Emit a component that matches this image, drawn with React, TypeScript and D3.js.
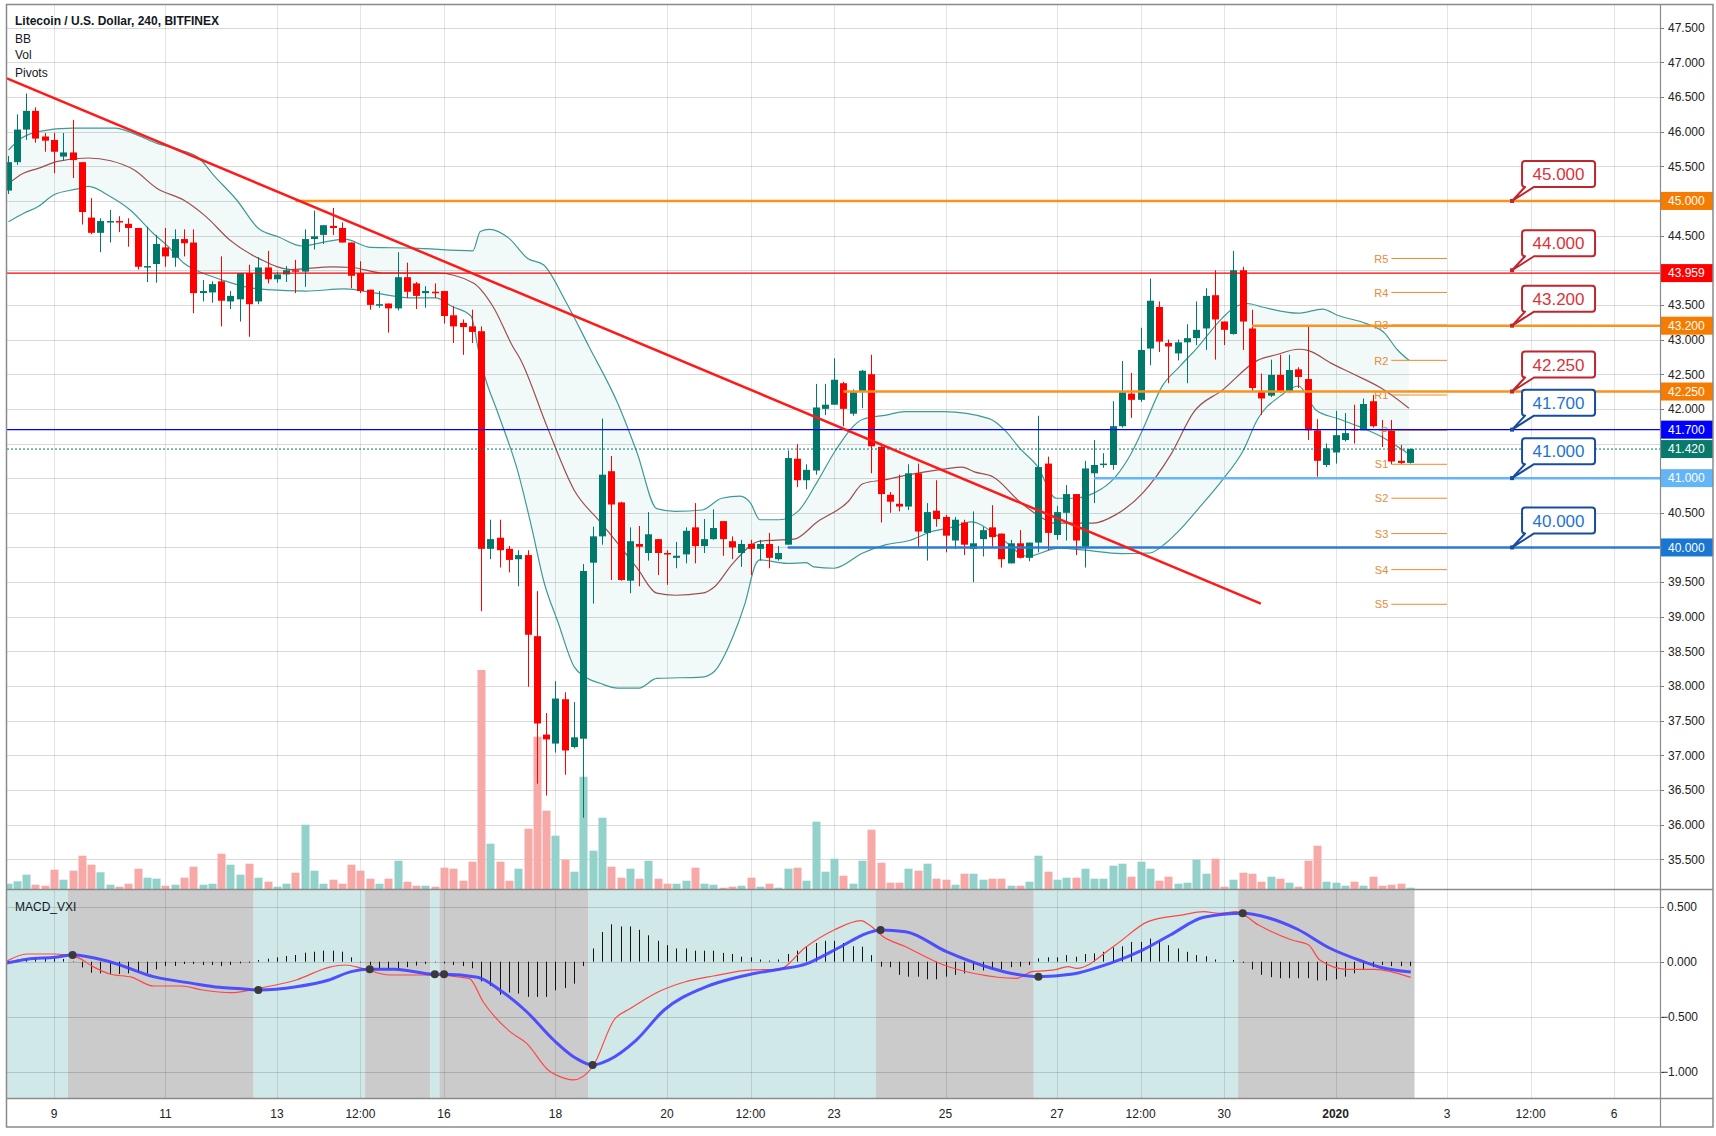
import React from 'react';
import * as d3 from 'd3';

const FONT = '"Liberation Sans", Arial, Helvetica, sans-serif';

// 4h bars, index counted from Dec 9 00:00 (6 bars a day)
const FIRST_BAR = -5;

// open, high, low, close
const ohlc: number[][] = [
  [45.15, 45.65, 45.10, 45.56], [45.56, 46.25, 45.52, 46.03], [46.03, 46.55, 45.88, 46.30], [46.30, 46.35, 45.84, 45.90],
  [45.93, 45.98, 45.71, 45.87], [45.88, 45.98, 45.40, 45.71], [45.64, 45.98, 45.58, 45.70], [45.70, 46.17, 45.33, 45.59],
  [45.56, 45.56, 44.66, 44.84], [44.76, 45.04, 44.52, 44.54], [44.54, 44.75, 44.26, 44.71], [44.70, 44.87, 44.40, 44.71],
  [44.71, 44.78, 44.55, 44.69], [44.67, 44.75, 44.34, 44.61], [44.61, 44.61, 44.01, 44.05], [44.04, 44.63, 43.83, 44.06],
  [44.09, 44.51, 43.82, 44.38], [44.33, 44.61, 44.05, 44.20], [44.18, 44.59, 44.05, 44.45], [44.45, 44.59, 44.20, 44.39],
  [44.40, 44.59, 43.38, 43.67], [43.67, 43.86, 43.55, 43.70], [43.68, 43.84, 43.53, 43.80], [43.84, 44.20, 43.19, 43.56],
  [43.55, 43.70, 43.44, 43.63], [43.58, 43.96, 43.26, 43.96], [43.96, 44.08, 43.04, 43.51], [43.55, 44.19, 43.51, 44.04],
  [44.04, 44.28, 43.81, 43.87], [43.87, 43.98, 43.82, 43.94], [43.94, 44.06, 43.83, 44.00], [44.00, 44.15, 43.67, 43.98],
  [43.98, 44.59, 43.76, 44.45], [44.45, 44.86, 44.30, 44.49], [44.51, 44.65, 44.38, 44.65], [44.64, 44.90, 44.51, 44.61],
  [44.61, 44.69, 44.40, 44.40], [44.40, 44.40, 43.74, 43.92], [43.96, 44.13, 43.67, 43.70], [43.72, 43.72, 43.43, 43.50],
  [43.50, 43.70, 43.46, 43.51], [43.52, 43.52, 43.10, 43.45], [43.45, 44.26, 43.42, 43.90], [43.90, 44.11, 43.60, 43.69],
  [43.81, 43.83, 43.44, 43.63], [43.67, 43.77, 43.46, 43.70], [43.69, 43.81, 43.60, 43.68], [43.70, 43.70, 43.23, 43.34],
  [43.35, 43.48, 42.95, 43.19], [43.24, 43.29, 42.78, 43.18], [43.19, 43.43, 42.95, 43.11], [43.12, 43.19, 39.08, 39.98],
  [39.98, 40.40, 39.83, 40.12], [40.14, 40.40, 39.71, 39.96], [39.98, 40.02, 39.64, 39.82], [39.83, 39.96, 39.44, 39.89],
  [39.89, 39.96, 37.99, 38.74], [38.72, 39.37, 36.59, 37.46], [37.30, 37.61, 36.42, 37.23], [37.17, 38.07, 37.04, 37.82],
  [37.81, 37.91, 36.72, 37.07], [37.12, 37.77, 37.10, 37.26], [37.24, 39.76, 36.10, 39.66], [39.78, 40.30, 39.19, 40.16],
  [40.16, 41.86, 40.04, 41.05], [41.10, 41.32, 39.53, 40.62], [40.65, 40.66, 39.52, 39.53], [39.52, 40.29, 39.34, 40.09],
  [40.05, 40.31, 39.44, 40.01], [39.92, 40.51, 39.81, 40.19], [40.12, 40.12, 39.60, 39.92], [39.92, 39.96, 39.46, 39.90],
  [39.85, 40.08, 39.70, 39.88], [39.90, 40.29, 39.77, 40.24], [40.29, 40.64, 39.77, 40.02], [40.02, 40.41, 39.92, 40.12],
  [40.12, 40.55, 40.11, 40.28], [40.38, 40.38, 39.88, 40.12], [40.09, 40.16, 39.83, 40.00], [39.92, 40.11, 39.72, 40.05],
  [40.05, 40.11, 39.60, 39.98], [39.98, 40.11, 39.81, 40.05], [40.05, 40.21, 39.70, 39.85], [39.83, 40.02, 39.81, 39.92],
  [40.04, 41.40, 40.04, 41.29], [41.28, 41.49, 40.87, 40.97], [40.97, 41.20, 40.84, 41.12], [41.11, 42.36, 41.05, 42.02],
  [42.00, 42.36, 41.91, 42.06], [42.06, 42.73, 42.06, 42.42], [42.37, 42.39, 41.75, 42.00], [41.93, 42.28, 41.90, 42.24],
  [42.25, 42.56, 42.01, 42.55], [42.50, 42.78, 41.07, 41.46], [41.45, 41.50, 40.36, 40.77], [40.76, 40.80, 40.50, 40.66],
  [40.63, 41.05, 40.52, 40.59], [40.59, 41.20, 40.54, 41.07], [41.07, 41.21, 40.01, 40.23], [40.21, 40.64, 39.81, 40.51],
  [40.53, 40.97, 40.30, 40.41], [40.44, 40.47, 39.93, 40.17], [40.10, 40.44, 39.98, 40.40], [40.36, 40.40, 39.89, 40.04],
  [39.98, 40.52, 39.50, 40.06], [40.12, 40.30, 39.87, 40.25], [40.29, 40.61, 40.01, 40.15], [40.20, 40.20, 39.71, 39.83],
  [39.77, 40.11, 39.77, 40.06], [40.06, 40.25, 39.84, 39.85], [39.85, 40.07, 39.80, 40.07], [40.07, 41.90, 39.93, 41.16],
  [41.21, 41.31, 39.96, 40.21], [40.18, 40.60, 40.11, 40.51], [40.50, 40.90, 40.10, 40.77], [40.77, 40.77, 39.89, 40.10],
  [40.01, 41.25, 39.71, 41.14], [41.07, 41.55, 40.64, 41.19], [41.19, 41.36, 41.15, 41.21], [41.19, 42.11, 41.12, 41.75],
  [41.75, 42.69, 41.73, 42.24], [42.22, 42.52, 41.87, 42.13], [42.13, 43.17, 42.10, 42.85], [42.87, 43.88, 42.63, 43.56],
  [43.47, 43.55, 42.82, 42.97], [42.95, 43.00, 42.37, 42.90], [42.80, 43.00, 42.70, 42.96], [42.96, 43.22, 42.37, 43.02],
  [43.02, 43.55, 42.92, 43.14], [43.16, 43.74, 42.85, 43.63], [43.64, 44.00, 42.71, 43.29], [43.26, 43.26, 42.92, 43.14],
  [43.08, 44.28, 43.07, 44.00], [44.00, 44.05, 42.85, 43.26], [43.16, 43.43, 42.26, 42.30], [42.26, 42.51, 41.91, 42.15],
  [42.19, 42.71, 42.17, 42.49], [42.49, 42.78, 42.23, 42.25], [42.25, 42.78, 42.23, 42.56], [42.57, 42.60, 42.30, 42.46],
  [42.43, 43.21, 41.55, 41.69], [41.69, 41.85, 41.02, 41.25], [41.19, 41.50, 41.16, 41.43], [41.37, 41.97, 41.21, 41.62],
  [41.55, 41.94, 41.53, 41.65], [41.71, 42.06, 41.50, 41.69], [41.69, 42.15, 41.69, 42.07], [42.11, 42.20, 41.73, 41.75],
  [41.71, 41.84, 41.45, 41.69], [41.69, 41.84, 41.20, 41.24], [41.25, 41.48, 41.20, 41.22], [41.22, 41.43, 41.21, 41.42],
];

const volume = [
  5.3, 7.7, 14.3, 4.3, 3.3, 19.3, 9.3, 18.3, 33.3, 24.3,
  16.7, 4.3, 2.3, 5.3, 20.3, 11.3, 10.3, 3.3, 4.3, 11.3,
  22.3, 4.3, 5.3, 35.3, 24.3, 14.3, 25.3, 11.3, 7.3, 2.3,
  5.3, 16.3, 64.3, 18.3, 5.3, 9.3, 5.3, 24.3, 18.3, 10.3,
  5.3, 10.3, 28.3, 7.3, 3.3, 3.3, 2.3, 21.3, 20.3, 8.3,
  27.3, 219, 45.3, 27.3, 8.3, 20.3, 60.3, 152.3, 78.3, 53.3,
  29.3, 17.3, 112.3, 38.3, 71.3,
  22.3, 11.3, 20.3, 10.3, 28.3, 10.3, 5.3, 5.3, 8.3, 21.3,
  5.3, 4.3, 1.3, 2.3, 3.3, 11.3, 2.3, 5.3, 1.3, 20.3,
  21.3, 8.3, 67.3, 17.3, 30.3, 13.3, 5.3, 28.3, 59.3, 26.3,
  6.3, 6.3, 20.3, 18.3, 25.3, 10.3, 9.3, 4.3, 15.3, 15.3,
  9.3, 10.3, 10.3, 3.3, 3.3, 7.3, 33.3, 17.3, 9.3, 11.3,
  11.3, 20.3, 10.3, 10.3, 23.3, 25.3, 12.3, 27.3, 20.3, 8.3,
  12.3, 5.3, 6.3, 29.3, 15.3, 30.3, 2.3, 9.3, 16.3, 15.3,
  7.3, 12.3, 10.3, 6.3, 2.3, 28.3, 43.3, 7.3, 6.3, 3.3,
  7.3, 3.3, 12.3, 3.3, 4.3, 5.3, 1.3,
];

// Bollinger bands, read at [bar, price]
const bbUpper = [
  [-4.9, 45.735], [-3.77, 45.88], [-1.72, 46.0], [2.0, 46.05], [6.55, 46.05], [9.0, 45.95], [11.1, 45.83], [13.6, 45.735],
  [15.6, 45.62], [17.2, 45.37], [19.7, 45.01], [21.96, 44.61], [24.2, 44.48], [26.7, 44.35], [29.2, 44.41], [31.3, 44.45],
  [34.1, 44.33], [38.7, 44.32], [45.1, 44.28], [45.9, 44.56], [46.9, 44.59], [49.0, 44.46], [51.0, 44.17], [52.7, 44.08],
  [55.1, 43.55], [57.6, 42.90], [60.7, 42.08], [62.8, 41.36], [64.9, 40.56], [66.9, 40.52], [69.8, 40.54], [71.9, 40.71],
  [73.9, 40.74], [75.0, 40.64], [76.0, 40.40], [78.1, 40.40], [80.1, 40.52], [82.2, 40.95], [84.2, 41.41], [87.1, 41.85],
  [89.6, 41.91], [91.6, 41.96], [95.8, 41.96], [100.7, 41.86], [102.4, 41.69], [104.0, 41.43], [105.9, 41.17], [107.9, 40.71],
  [109.8, 40.71], [111.9, 40.78], [114.3, 41.02], [116.0, 41.36], [117.2, 41.69], [119.3, 42.32], [121.2, 42.61], [122.9, 42.85],
  [125.8, 43.31], [127.3, 43.48], [128.5, 43.52], [130.1, 43.47], [134.0, 43.38], [136.6, 43.44], [138.2, 43.35], [141.3, 43.23],
  [143.3, 43.09], [144.6, 42.86], [145.9, 42.70],
];
const bbMiddle = [
  [-4.9, 45.25], [-3.3, 45.40], [-1.7, 45.47], [0.4, 45.57], [3.7, 45.62], [6.1, 45.58], [8.6, 45.45], [11.1, 45.18],
  [14.0, 45.01], [16.4, 44.77], [18.9, 44.44], [22.2, 44.16], [25.5, 44.01], [30.0, 44.05], [32.1, 44.04], [35.4, 43.96],
  [41.2, 43.96], [45.1, 43.82], [47.3, 43.47], [49.4, 42.90], [50.2, 42.72], [53.1, 41.74], [56.0, 40.83], [58.8, 40.37],
  [60.7, 40.06], [62.8, 39.70], [64.9, 39.34], [66.9, 39.31], [69.8, 39.34], [71.1, 39.43], [73.1, 39.77], [76.0, 40.09],
  [79.7, 40.12], [82.2, 40.37], [85.5, 40.66], [87.1, 40.92], [89.6, 40.98], [92.1, 41.05], [95.8, 41.13], [97.8, 41.16],
  [99.1, 41.09], [101.1, 41.02], [104.0, 40.66], [106.1, 40.45], [107.7, 40.35], [111.9, 40.35], [114.3, 40.47], [117.2, 40.78],
  [120.3, 41.35], [122.7, 41.95], [125.8, 42.27], [129.6, 42.70], [131.6, 42.78], [134.0, 42.86], [135.1, 42.84], [137.5, 42.66],
  [139.8, 42.51], [142.9, 42.30], [145.9, 42.01],
];
const bbLower = [
  [-4.9, 44.70], [-3.3, 44.82], [-1.7, 44.92], [0, 45.09], [2.4, 45.17], [3.7, 45.21], [6.1, 45.06], [8.2, 44.87],
  [10.7, 44.53], [12.3, 44.34], [14.0, 44.10], [16.0, 43.96], [18.1, 43.86], [20.6, 43.76], [23.0, 43.72], [27.1, 43.70],
  [31.3, 43.73], [34.6, 43.67], [38.7, 43.60], [41.1, 43.60], [42.8, 43.48], [44.9, 43.34], [45.7, 42.85], [46.3, 42.51],
  [47.8, 41.94], [50.0, 41.07], [51.5, 40.25], [52.7, 39.53], [54.3, 38.91], [56.0, 38.28], [57.2, 38.13], [58.8, 38.04],
  [60.7, 37.97], [63.0, 37.97], [64.9, 38.11], [69.8, 38.13], [71.1, 38.21], [73.1, 38.71], [74.4, 39.19], [75.6, 39.77],
  [76.0, 39.82], [78.9, 39.77], [81.0, 39.78], [81.8, 39.72], [84.0, 39.70], [87.1, 39.92], [89.6, 40.04], [92.1, 40.10],
  [94.5, 40.23], [97.0, 40.30], [98.7, 40.37], [102.0, 40.13], [104.8, 39.87], [108.2, 39.99], [111.0, 39.96], [114.9, 39.91],
  [118.0, 39.92], [119.7, 40.06], [121.2, 40.25], [123.1, 40.54], [125.8, 40.97], [128.1, 41.41], [129.6, 41.85], [132.0, 42.18],
  [134.0, 42.33], [135.9, 41.98], [138.2, 41.86], [140.6, 41.74], [142.9, 41.60], [145.2, 41.41], [145.9, 41.35],
];

// MACD_VXI pane
const macdLine = [
  [-5.2, -0.015], [-2.9, 0.022], [0.1, 0.04], [2, 0.061], [6, 0.0], [10.7, -0.136], [14.9, -0.197], [17.8, -0.233],
  [20.2, -0.245], [22, -0.257], [26.1, -0.227], [29.6, -0.166], [32, -0.09], [34, -0.069], [36.7, -0.069], [41, -0.115],
  [42, -0.115], [45.6, -0.142], [48, -0.257], [50.9, -0.455], [53.8, -0.712], [56.2, -0.878], [58, -0.939], [59.7, -0.894],
  [62.7, -0.712], [65.7, -0.439], [69.8, -0.242], [75.1, -0.112], [78, -0.07], [81, -0.02], [83, 0.06], [85, 0.15],
  [87, 0.24], [89, 0.288], [91.7, 0.273], [96.1, 0.091], [100.6, -0.051], [103.6, -0.115], [106, -0.136], [109.5, -0.115],
  [113.7, -0.015], [117.2, 0.106], [120.2, 0.243], [123.8, 0.404], [128, 0.44], [130.9, 0.395], [133.9, 0.295], [137.4, 0.122],
  [141, 0.0], [142.8, -0.051], [146.1, -0.094],
];
const signalLine = [
  [-5.2, 0.0], [-2.9, 0.07], [0.1, 0.07], [2.5, 0.04], [4.2, -0.045], [6, -0.112], [8.4, -0.142], [10.7, -0.221],
  [13.7, -0.221], [16, -0.257], [19, -0.282], [22, -0.242], [26.1, -0.166], [29.6, -0.051], [31.4, -0.03], [33.2, -0.06],
  [36.1, -0.121], [40.3, -0.121], [44.7, -0.151], [46.2, -0.364], [49.1, -0.636], [50.9, -0.742], [53.2, -0.985], [55, -1.06],
  [55.9, -1.075], [58, -0.955], [60.3, -0.53], [62.1, -0.424], [65.1, -0.273], [68, -0.182], [71, -0.13], [75.1, -0.075],
  [78, -0.069], [81, 0.136], [84, 0.288], [86.9, 0.373], [87.8, 0.334], [89.3, 0.227], [91.7, 0.136], [95.8, -0.03],
  [99.4, -0.112], [103.6, -0.151], [105.3, -0.091], [107.7, -0.075], [109.2, -0.045], [110.1, -0.06], [114.3, 0.152], [117.8, 0.364],
  [121.4, 0.424], [123.8, 0.455], [125.5, 0.44], [127.3, 0.455], [129.7, 0.334], [133.3, 0.197], [135.1, 0.152], [136.3, 0.015],
  [139.2, -0.069], [142.2, -0.069], [146.1, -0.142],
];
const histogram = [
  0.01, 0.02, 0.025, 0.03, 0.03, 0.03, 0.025, 0.005,
  -0.052, -0.10, -0.106, -0.112, -0.112, -0.106, -0.091, -0.106, -0.07, -0.039,
  -0.039, -0.021, -0.021, -0.03, -0.03, -0.039, -0.03, -0.015, -0.009, 0.015,
  0.027, 0.039, 0.052, 0.061, 0.082, 0.091, 0.1, 0.1, 0.091, 0.04,
  -0.005, -0.03, -0.06, -0.07, -0.07, -0.05, -0.035, -0.02, -0.005, -0.015,
  -0.03, -0.04, -0.06, -0.18, -0.22, -0.30, -0.28, -0.29, -0.32, -0.32,
  -0.32, -0.26, -0.24, -0.20, -0.04, 0.12, 0.27, 0.34, 0.32, 0.32,
  0.29, 0.24, 0.19, 0.15, 0.12, 0.12, 0.10, 0.10, 0.10, 0.08,
  0.07, 0.045, 0.04, 0.02, 0.01, 0.02, 0.07, 0.10, 0.14, 0.17,
  0.19, 0.19, 0.17, 0.14, 0.136, 0.06, -0.045, -0.05, -0.12, -0.136,
  -0.136, -0.16, -0.16, -0.136, -0.12, -0.106, -0.076, -0.08, -0.07, -0.07,
  -0.05, -0.045, -0.03, 0.03, 0.04, 0.04, 0.06, 0.045, 0.07, 0.076,
  0.09, 0.13, 0.14, 0.18, 0.18, 0.21, 0.19, 0.15, 0.12, 0.09,
  0.06, 0.05, 0.02, 0.0, 0.015, -0.01, -0.07, -0.12, -0.14, -0.15,
  -0.15, -0.15, -0.15, -0.17, -0.17, -0.16, -0.136, -0.106, -0.076, -0.05,
  -0.03, -0.04, -0.04, -0.04,
];
const crossBars = [2, 22, 34, 41, 42, 58, 89, 106, 128];
const crossValues = [0.061, -0.257, -0.069, -0.115, -0.115, -0.939, 0.288, -0.136, 0.44];

// drawings
const trendLine = [[-5.07, 46.77], [129.95, 39.19]];
const levelValues = [45.0, 43.959, 43.2, 42.25, 41.7, 41.42, 41.0, 40.0];
const levelStartBar = [26, -6, 129, 85, -6, -6, 112, 79];
const calloutValues = [45.0, 44.0, 43.2, 42.25, 41.7, 41.0, 40.0];
const calloutBar = 157;
const pivotNames = ['R5', 'R4', 'R3', 'R2', 'R1', 'P', 'S1', 'S2', 'S3', 'S4', 'S5'];
const pivotValues = [44.17, 43.68, 43.21, 42.70, 42.20, 41.69, 41.20, 40.71, 40.20, 39.68, 39.18];
const pivotFromBar = 144;
const pivotToBar = 150;

// axes
const priceTicks = [35.5, 36, 36.5, 37, 37.5, 38, 38.5, 39, 39.5, 40, 40.5, 41, 41.5, 42, 42.5, 43, 43.5, 44, 44.5, 45, 45.5, 46, 46.5, 47, 47.5];
const hiddenPriceLabels = [45, 44, 41.5, 41, 40];
const macdTicks = [0.5, 0, -0.5, -1];
const timeTickDays = [0, 2, 4, 5.5, 7, 9, 11, 12.5, 14, 16, 18, 19.5, 21, 23, 25, 26.5, 28];
const timeTickLabels = ['9', '11', '13', '12:00', '16', '18', '20', '12:00', '23', '25', '27', '12:00', '30', '2020', '3', '12:00', '6'];

const GREEN = '#00796b';
const RED = '#ff0000';
const ORANGE = '#f7931e';
const levelStyle = [
  { c: ORANGE, w: 2.5, dash: '' }, { c: '#ff0000', w: 1.2, dash: '' }, { c: ORANGE, w: 2.5, dash: '' },
  { c: ORANGE, w: 2.5, dash: '' }, { c: '#0000ff', w: 1.2, dash: '' }, { c: GREEN, w: 1, dash: '2 2' },
  { c: '#64b5f6', w: 2.5, dash: '' }, { c: '#2a7bd5', w: 2.5, dash: '' },
];
const labelBg = ['#f57c00', '#ff0000', '#f57c00', '#f57c00', '#0000ff', '#087a6c', '#64b5f6', '#1976d2'];

const L = 7, R = 1660, T = 5, MAIN_B = 889, MACD_B = 1098;

export default function App() {
  const xDay = d3.scaleLinear().domain([0, 28]).range([54, 1614.2]);
  const xBar = (k: number) => xDay(k / 6);
  const yP = d3.scaleLinear().domain([35.5, 47.5]).range([859.3, 27.7]);
  const yM = d3.scaleLinear().domain([-1, 0.5]).range([1071.7, 906.7]);
  const yV = d3.scaleLinear().domain([0, 220]).range([MAIN_B, MAIN_B - 220]);

  const priceLine = d3.line<number[]>().x(d => xBar(d[0])).y(d => yP(d[1])).curve(d3.curveMonotoneX);
  const macdPath = d3.line<number[]>().x(d => xBar(d[0])).y(d => yM(d[1])).curve(d3.curveMonotoneX);

  const upperD = priceLine(bbUpper) as string;
  const lowerD = priceLine(bbLower) as string;
  const ux0 = xBar(bbUpper[0][0]), ux1 = xBar(bbUpper[bbUpper.length - 1][0]);
  const lx0 = xBar(bbLower[0][0]), lx1 = xBar(bbLower[bbLower.length - 1][0]);
  const belowUpper = `${upperD}L${ux1},${MAIN_B}L${ux0},${MAIN_B}Z`;
  const aboveLower = `${lowerD}L${lx1},0L${lx0},0Z`;

  const bounds = [FIRST_BAR - 0.5, ...crossBars.map(b => b - 0.5), FIRST_BAR + ohlc.length - 0.5];

  const callout = (tipX: number, tipY: number) => {
    const x0 = tipX + 10, x1 = tipX + 83, y0 = tipY - 40, y1 = tipY - 14, r = 3;
    return `M${x0 + r},${y0}H${x1 - r}Q${x1},${y0} ${x1},${y0 + r}V${y1 - r}Q${x1},${y1} ${x1 - r},${y1}` +
      `H${x0 + 12}L${tipX},${tipY}L${x0 + 3},${y1}H${x0 + r}Q${x0},${y1} ${x0},${y1 - r}V${y0 + r}Q${x0},${y0} ${x0 + r},${y0}Z`;
  };

  const fmt = d3.format('.3f');
  const tipX = xBar(calloutBar);

  return (
    <svg width={1716} height={1136} style={{ position: 'absolute', left: 0, top: 0, background: '#fff' }} fontFamily={FONT}>
      <defs>
        <clipPath id="mainClip"><rect x={L} y={T} width={R - L} height={MAIN_B - T} /></clipPath>
        <clipPath id="macdClip"><rect x={L} y={MAIN_B} width={R - L} height={MACD_B - MAIN_B} /></clipPath>
        <clipPath id="bbClip"><path d={belowUpper} /></clipPath>
      </defs>
      <rect x={0} y={0} width={1716} height={1136} fill="#fff" />

      {/* MACD pane shading */}
      <g clipPath="url(#macdClip)">
        {bounds.slice(0, -1).map((b, i) => (
          <rect key={i} x={xBar(b)} y={MAIN_B} width={xBar(bounds[i + 1]) - xBar(b)} height={MACD_B - MAIN_B}
            fill={i % 2 === 0 ? '#d0e8e8' : '#cbcbcb'} />
        ))}
      </g>

      {/* grid */}
      <g>
        {timeTickDays.map((d, i) => (
          <line key={i} x1={Math.round(xDay(d)) + 0.5} x2={Math.round(xDay(d)) + 0.5} y1={T} y2={MACD_B} stroke="rgba(0,0,0,0.11)" />
        ))}
        {priceTicks.map((p, i) => (
          <line key={i} x1={L} x2={R} y1={Math.round(yP(p)) + 0.5} y2={Math.round(yP(p)) + 0.5} stroke="rgba(0,0,0,0.15)" />
        ))}
        {macdTicks.map((v, i) => (
          <line key={i} x1={L} x2={R} y1={Math.round(yM(v)) + 0.5} y2={Math.round(yM(v)) + 0.5} stroke="rgba(0,0,0,0.15)" />
        ))}
      </g>

      <g clipPath="url(#mainClip)">
        {/* Bollinger bands */}
        <path d={aboveLower} clipPath="url(#bbClip)" fill="rgba(0,140,130,0.05)" />
        <path d={upperD} fill="none" stroke="#3d9a96" strokeWidth={1.2} />
        <path d={lowerD} fill="none" stroke="#3d9a96" strokeWidth={1.2} />
        <path d={priceLine(bbMiddle) as string} fill="none" stroke="#9c4f4f" strokeWidth={1.2} />

        {/* volume */}
        {volume.map((v, i) => {
          const cx = Math.round(xBar(FIRST_BAR + i));
          const up = ohlc[i][3] >= ohlc[i][0];
          return <rect key={i} x={cx - 3.5} y={yV(v)} width={8} height={MAIN_B - yV(v)} fill={up ? '#93d2cb' : '#f7a9a8'} />;
        })}

        {/* candles */}
        {ohlc.map((c, i) => {
          const cx = Math.round(xBar(FIRST_BAR + i));
          const [o, h, l, cl] = c;
          const col = cl >= o ? GREEN : RED;
          const yt = yP(Math.max(o, cl)), yb = yP(Math.min(o, cl));
          return (
            <g key={i}>
              <line x1={cx + 0.5} x2={cx + 0.5} y1={yP(h)} y2={yP(l)} stroke={col} />
              <rect x={cx - 3} y={yt} width={7} height={Math.max(1.5, yb - yt)} fill={col} />
            </g>
          );
        })}

        {/* pivots */}
        {pivotValues.map((p, i) => (
          <g key={i}>
            <line x1={xBar(pivotFromBar)} x2={xBar(pivotToBar)} y1={yP(p)} y2={yP(p)} stroke="#ef8a2a" strokeWidth={1} />
            <text x={xBar(pivotFromBar) - 3} y={yP(p)} dy="0.38em" textAnchor="end" fontSize={11} fill="#ea8a36">{pivotNames[i]}</text>
          </g>
        ))}

        {/* horizontal levels */}
        {levelValues.map((v, i) => (
          <line key={i} x1={Math.max(L, xBar(levelStartBar[i]))} x2={R} y1={yP(v)} y2={yP(v)}
            stroke={levelStyle[i].c} strokeWidth={levelStyle[i].w} strokeDasharray={levelStyle[i].dash || undefined} />
        ))}

        {/* trend line */}
        <line x1={xBar(trendLine[0][0])} y1={yP(trendLine[0][1])} x2={xBar(trendLine[1][0])} y2={yP(trendLine[1][1])}
          stroke="#ff1a1a" strokeWidth={2.5} />

        {/* callouts */}
        {calloutValues.map((v, i) => {
          const red = i < 4;
          const border = red ? '#c0262d' : '#1a4c9e';
          const txt = red ? '#d8343a' : '#1f74d1';
          const ty = yP(v);
          return (
            <g key={i}>
              <path d={callout(tipX, ty)} fill="#fff" stroke={border} strokeWidth={2} strokeLinejoin="round" />
              <rect x={tipX - 2} y={ty - 2} width={4} height={4} fill={border} />
              <text x={tipX + 46.5} y={ty - 27} dy="0.36em" textAnchor="middle" fontSize={17} fill={txt}>{fmt(v)}</text>
            </g>
          );
        })}
      </g>

      {/* MACD */}
      <g clipPath="url(#macdClip)">
        {histogram.map((v, i) => {
          const cx = Math.round(xBar(FIRST_BAR + i)) + 0.5;
          return <line key={i} x1={cx} x2={cx} y1={yM(0)} y2={yM(v)} stroke="#111" strokeWidth={1} />;
        })}
        <path d={macdPath(signalLine) as string} fill="none" stroke="#ff4646" strokeWidth={1.2} />
        <path d={macdPath(macdLine) as string} fill="none" stroke="#4040ff" strokeWidth={3} strokeOpacity={0.9} />
        {crossBars.map((b, i) => (
          <circle key={i} cx={xBar(b)} cy={yM(crossValues[i])} r={4} fill="#3a3a3a" />
        ))}
      </g>

      {/* price axis */}
      <rect x={R} y={T} width={1713 - R} height={MACD_B - T} fill="#fff" />
      {priceTicks.map((p, i) => (
        <g key={i}>
          <line x1={R} x2={R + 4} y1={Math.round(yP(p)) + 0.5} y2={Math.round(yP(p)) + 0.5} stroke="#787878" />
          {hiddenPriceLabels.indexOf(p) < 0 && (
            <text x={1668} y={yP(p)} dy="0.36em" fontSize={12} fill="#222">{fmt(p)}</text>
          )}
        </g>
      ))}
      {levelValues.map((v, i) => (
        <g key={i}>
          <rect x={R + 1} y={yP(v) - 9} width={1713 - R - 1} height={18} fill={labelBg[i]} />
          <text x={1668} y={yP(v)} dy="0.36em" fontSize={12} fill="#fff">{fmt(v)}</text>
        </g>
      ))}
      {macdTicks.map((v, i) => (
        <g key={i}>
          <line x1={R} x2={R + 4} y1={Math.round(yM(v)) + 0.5} y2={Math.round(yM(v)) + 0.5} stroke="#787878" />
          <text x={v < 0 ? 1661 : 1667} y={yM(v)} dy="0.36em" fontSize={12} fill="#222">
            {v < 0 ? '\u2212' + fmt(-v) : fmt(v)}
          </text>
        </g>
      ))}

      {/* time axis */}
      {timeTickDays.map((d, i) => (
        <text key={i} x={xDay(d)} y={1118} textAnchor="middle" fontSize={12} fill="#222"
          fontWeight={timeTickLabels[i] === '2020' ? 'bold' : 'normal'}>{timeTickLabels[i]}</text>
      ))}

      {/* frame */}
      <line x1={L} x2={1713} y1={MAIN_B + 0.5} y2={MAIN_B + 0.5} stroke="#8a8a8a" strokeWidth={1.5} />
      <line x1={L} x2={1713} y1={MACD_B + 0.5} y2={MACD_B + 0.5} stroke="#8a8a8a" strokeWidth={1.5} />
      <line x1={R + 0.5} x2={R + 0.5} y1={T} y2={1127} stroke="#8a8a8a" strokeWidth={1.2} />
      <rect x={6.5} y={4.5} width={1706.5} height={1122.5} fill="none" stroke="#8a8a8a" strokeWidth={1.5} />

      {/* legend */}
      <text x={15} y={25} fontSize={12} fontWeight="bold" fill="#131722">Litecoin / U.S. Dollar, 240, BITFINEX</text>
      <text x={15} y={42.5} fontSize={12} fill="#131722">BB</text>
      <text x={15} y={59} fontSize={12} fill="#131722">Vol</text>
      <text x={15} y={76.5} fontSize={12} fill="#131722">Pivots</text>
      <text x={15} y={911} fontSize={12} fill="#131722">MACD_VXI</text>
    </svg>
  );
}
